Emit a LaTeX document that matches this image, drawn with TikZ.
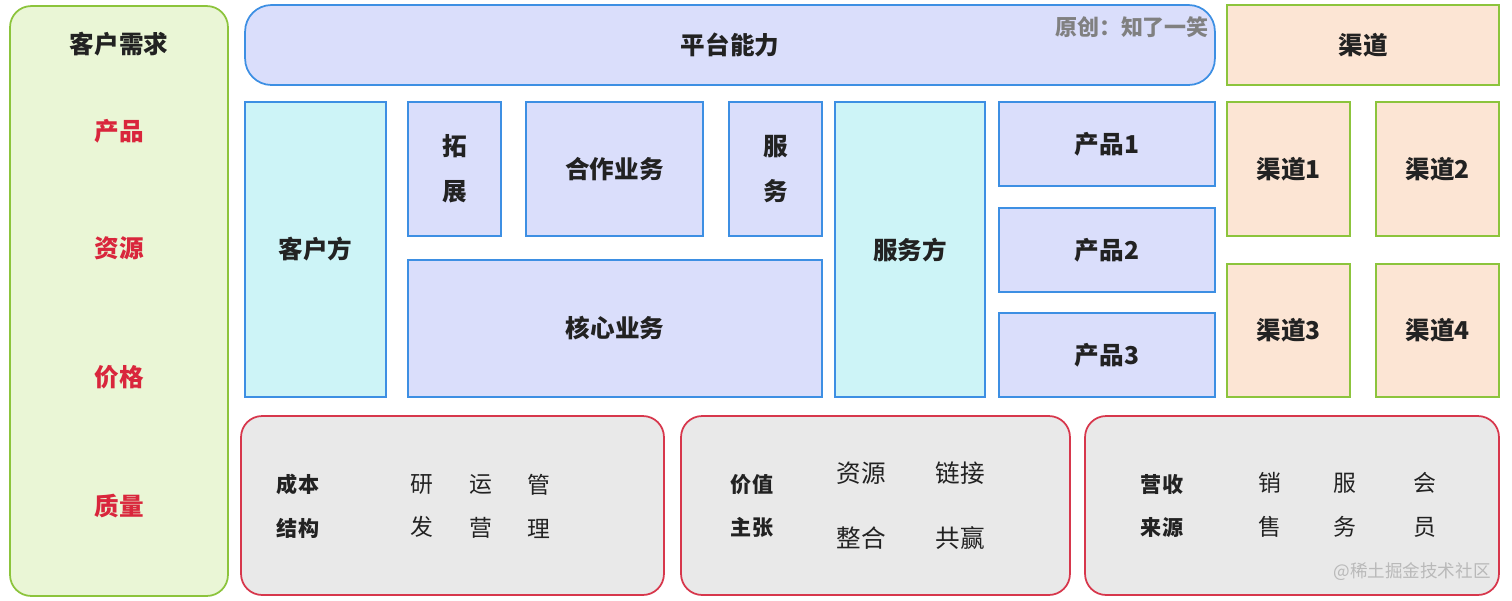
\documentclass[tikz,border=0pt]{standalone}
\usepackage{fontspec}
\setmainfont{Noto Sans CJK SC}
\usetikzlibrary{positioning}
\definecolor{grnfill}{HTML}{EAF6D6}
\definecolor{grnline}{HTML}{8CC43C}
\definecolor{lavfill}{HTML}{DADEFB}
\definecolor{bluline}{HTML}{3D8FE3}
\definecolor{cyanfill}{HTML}{CDF4F7}
\definecolor{peachfill}{HTML}{FCE5D4}
\definecolor{grayfill}{HTML}{E9E9E9}
\definecolor{redline}{HTML}{D7374C}
\definecolor{redtext}{HTML}{D9263C}
\definecolor{darktext}{HTML}{222222}
\tikzstyle{need}=[rectangle,draw=grnline,fill=grnfill,line width=1pt,rounded corners=12pt]
\tikzstyle{plat}=[rectangle,draw=bluline,fill=lavfill,line width=1pt,align=center,text=darktext,font=\fontsize{14}{25.5}\selectfont\bfseries]
\tikzstyle{side}=[plat,fill=cyanfill]
\tikzstyle{chan}=[plat,draw=grnline,fill=peachfill]
\tikzstyle{base}=[rectangle,draw=redline,fill=grayfill,line width=1pt,rounded corners=12pt]
\tikzstyle{lbl}=[align=center,text=darktext,font=\fontsize{12}{25}\selectfont\bfseries]
\tikzstyle{itm}=[align=center,text=darktext,font=\fontsize{13}{25}\selectfont]
\tikzstyle{itmw}=[align=center,text=darktext,font=\fontsize{14}{37}\selectfont]
\tikzstyle{req}=[text=redtext,font=\fontsize{14}{17}\selectfont\bfseries]

\begin{document}
\begin{tikzpicture}[x=0.02cm,y=-0.02cm]
\useasboundingbox (0,0) rectangle (1512,600);
% customer needs
\node[need, minimum width=4.36cm, minimum height=11.8cm] (need) at (119,301) {};
\node[req, text=darktext] (needT) at (119,44) {客户需求};
\node[req] (r1) at (119,131) {产品};
\node[req] (r2) at (119,248) {资源};
\node[req] (r3) at (119,377) {价格};
\node[req] (r4) at (119,506) {质量};
% platform
\node[plat, rounded corners=15pt, minimum width=19.4cm, minimum height=1.6cm] (plat) at (730,45) {平台能力};
\node[text=gray, font=\fontsize{12.5}{15}\selectfont\bfseries] (orig) at (1132,27) {原创：知了一笑};
\node[chan, minimum width=5.44cm, minimum height=1.6cm] (chan) at (1363,45) {渠道};
% business
\node[side, minimum width=2.82cm, minimum height=5.9cm] (cust) at (315.5,249.5) {客户方};
\node[plat, minimum width=1.86cm, minimum height=2.68cm] (ext) at (454.5,169) {拓\\展};
\node[plat, minimum width=3.54cm, minimum height=2.68cm] (coop) at (614.5,169) {合作业务};
\node[plat, minimum width=1.86cm, minimum height=2.68cm] (serv) at (775.5,169) {服\\务};
\node[plat, minimum width=8.28cm, minimum height=2.74cm] (core) at (615,328.5) {核心业务};
\node[side, minimum width=3.0cm, minimum height=5.9cm] (prov) at (910,249.5) {服务方};
\node[plat, minimum width=4.32cm, minimum height=1.68cm] (p1) at (1107,144) {产品1};
\node[plat, minimum width=4.32cm, minimum height=1.68cm] (p2) at (1107,250) {产品2};
\node[plat, minimum width=4.32cm, minimum height=1.68cm] (p3) at (1107,355) {产品3};
% channels
\node[chan, minimum width=2.46cm, minimum height=2.68cm] (c1) at (1288.5,169) {渠道1};
\node[chan, minimum width=2.46cm, minimum height=2.68cm] (c2) at (1437.5,169) {渠道2};
\node[chan, minimum width=2.46cm, minimum height=2.66cm] (c3) at (1288.5,330.5) {渠道3};
\node[chan, minimum width=2.46cm, minimum height=2.66cm] (c4) at (1437.5,330.5) {渠道4};
% cost
\node[base, minimum width=8.46cm, minimum height=3.58cm] (cost) at (452.5,505.5) {};
\node[lbl] (costT) at (298,506) {成本\\结构};
\node[itm] (a1) at (422,506) {研\\发};
\node[itm] (a2) at (481,506) {运\\营};
\node[itm] (a3) at (539,506) {管\\理};
% value
\node[base, minimum width=7.78cm, minimum height=3.58cm] (value) at (875.5,505.5) {};
\node[lbl] (valueT) at (752,506) {价值\\主张};
\node[itmw] (b1) at (861,505.5) {资源\\整合};
\node[itmw] (b2) at (960,505.5) {链接\\共赢};
% revenue
\node[base, minimum width=8.28cm, minimum height=3.58cm] (rev) at (1292,505.5) {};
\node[lbl] (revT) at (1162,506) {营收\\来源};
\node[itm] (d1) at (1270,505) {销\\售};
\node[itm] (d2) at (1345,505) {服\\务};
\node[itm] (d3) at (1425,505) {会\\员};
\node[text=gray!55, font=\fontsize{10}{12}\selectfont] (mark) at (1412,572) {@稀土掘金技术社区};
\end{tikzpicture}
\end{document}
